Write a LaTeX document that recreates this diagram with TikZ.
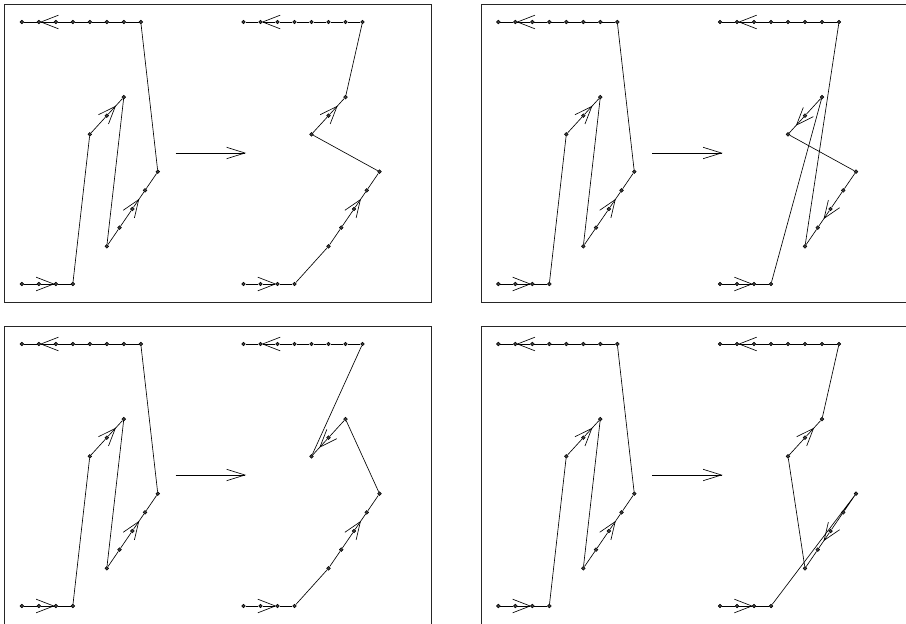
\documentclass[tikz,border=0pt]{standalone}
\usetikzlibrary{decorations.markings}
\tikzset{
  dot/.style={circle, fill=black!75, draw=black, line width=0.55pt, inner sep=0pt, minimum size=3.7pt},
  ln/.style={line width=0.65pt, line join=miter},
  frame/.style={line width=0.7pt, draw=black!85},
  arrmid/.style={postaction={decorate}, decoration={markings,
      mark=at position #1 with {\draw[line width=0.65pt] (-17.5pt,6.8pt) -- (0pt,0pt) -- (-17.5pt,-6.8pt);}}},
  bigarr/.style={postaction={decorate}, decoration={markings,
      mark=at position 0.999 with {\draw[line width=0.65pt] (-18.3pt,5.7pt) -- (0pt,0pt) -- (-18.3pt,-5.7pt);}}},
}
% dots of one half, plus its bottom and top rows
\newcommand\chaindots[3]{%
  \foreach \i in {1,...,4} {\node[dot] (#1B\i) at ({#2+21.8+17*(\i-1)},{#3+284}) {};}
  \foreach \i in {1,...,8} {\node[dot] (#1T\i) at ({#2+21.8+17*(\i-1)},{#3+22}) {};}
  \node[dot] (#1P1) at ({#2+89.8},{#3+134.3}) {};
  \node[dot] (#1P2) at ({#2+106.8},{#3+115.7}) {};
  \node[dot] (#1P3) at ({#2+123.8},{#3+97.1}) {};
  \node[dot] (#1Q0) at ({#2+106.8},{#3+246.3}) {};
  \node[dot] (#1Q1) at ({#2+119.55},{#3+227.65}) {};
  \node[dot] (#1Q2) at ({#2+132.3},{#3+209}) {};
  \node[dot] (#1Q3) at ({#2+145.05},{#3+190.35}) {};
  \node[dot] (#1Q4) at ({#2+157.8},{#3+171.7}) {};
  \draw[ln] (#1B1) -- (#1B2);
  \draw[ln, arrmid=0.999] (#1B2) -- (#1B3);
  \draw[ln] (#1B3) -- (#1B4);
  \draw[ln] (#1T8) -- (#1T7) -- (#1T6) -- (#1T5) -- (#1T4) -- (#1T3);
  \draw[ln, arrmid=0.999] (#1T3) -- (#1T2);
  \draw[ln] (#1T2) -- (#1T1);
}
% one panel: frame, left configuration, right dots, central arrow
\newcommand\panel[3]{%
  \draw[frame] ({#2+4.5},{#3+4.5}) rectangle ({#2+431.5},{#3+302});
  \chaindots{#1L}{#2}{#3}
  \chaindots{#1R}{#2+221.7}{#3}
  \draw[ln] (#1LB4) -- (#1LP1) -- (#1LP2);
  \draw[ln, arrmid=0.5] (#1LP2) -- (#1LP3);
  \draw[ln] (#1LP3) -- (#1LQ0) -- (#1LQ1) -- (#1LQ2);
  \draw[ln, arrmid=0.5] (#1LQ2) -- (#1LQ3);
  \draw[ln] (#1LQ3) -- (#1LQ4) -- (#1LT8);
  \coordinate (#1s) at ({#2+175.7},{#3+153});
  \coordinate (#1e) at ({#2+245},{#3+153});
  \draw[ln, bigarr] (#1s) -- (#1e);
}
\begin{document}
\begin{tikzpicture}[x=1pt, y=-1pt]
\useasboundingbox (0,0) rectangle (906,624);
\clip (0,0) rectangle (906,624);

% panel a (top left)
\panel{a}{0}{0}
\draw[ln] (aRB4) -- (aRQ0) -- (aRQ1) -- (aRQ2);
\draw[ln, arrmid=0.5] (aRQ2) -- (aRQ3);
\draw[ln] (aRQ3) -- (aRQ4) -- (aRP1) -- (aRP2);
\draw[ln, arrmid=0.5] (aRP2) -- (aRP3);
\draw[ln] (aRP3) -- (aRT8);

% panel b (top right)
\panel{b}{476.5}{0}
\draw[ln] (bRB4) -- (bRP3) -- (bRP2);
\draw[ln, arrmid=0.5] (bRP2) -- (bRP1);
\draw[ln] (bRP1) -- (bRQ4) -- (bRQ3) -- (bRQ2);
\draw[ln, arrmid=0.5] (bRQ2) -- (bRQ1);
\draw[ln] (bRQ1) -- (bRQ0) -- (bRT8);

% panel c (bottom left)
\panel{c}{0}{322}
\draw[ln] (cRB4) -- (cRQ0) -- (cRQ1) -- (cRQ2);
\draw[ln, arrmid=0.5] (cRQ2) -- (cRQ3);
\draw[ln] (cRQ3) -- (cRQ4) -- (cRP3) -- (cRP2);
\draw[ln, arrmid=0.5] (cRP2) -- (cRP1);
\draw[ln] (cRP1) -- (cRT8);

% panel d (bottom right)
\panel{d}{476.5}{322}
\draw[ln] (dRB4) -- (dRQ4) -- (dRQ3) -- (dRQ2);
\draw[ln, arrmid=0.5] (dRQ2) -- (dRQ1);
\draw[ln] (dRQ1) -- (dRQ0) -- (dRP1) -- (dRP2);
\draw[ln, arrmid=0.5] (dRP2) -- (dRP3);
\draw[ln] (dRP3) -- (dRT8);
\end{tikzpicture}
\end{document}
